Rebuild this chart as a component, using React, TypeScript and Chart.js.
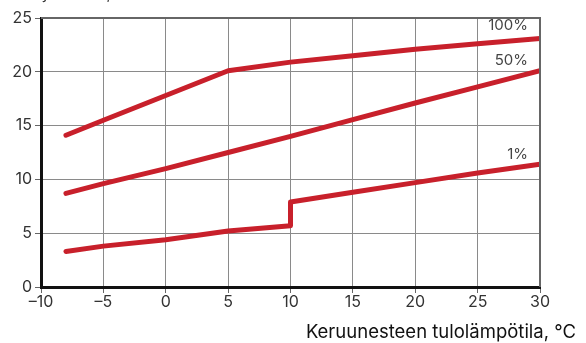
import React, { useEffect, useRef } from "react";
import { Chart, registerables } from "chart.js";

Chart.register(...registerables);

const xTicks = [-10, -5, 0, 5, 10, 15, 20, 25, 30];
const yTicks = [0, 5, 10, 15, 20, 25];

const x100 = [-8, -5, 0, 5, 10, 15, 20, 25, 30];
const y100 = [14.1, 15.5, 17.8, 20.1, 20.9, 21.5, 22.1, 22.6, 23.1];

const x50 = [-8, -5, 0, 5, 10, 15, 20, 25, 30];
const y50 = [8.7, 9.6, 11.0, 12.5, 14.0, 15.55, 17.1, 18.6, 20.1];

const x1 = [-8, -5, 0, 5, 10, 10, 15, 20, 25, 30];
const y1 = [3.3, 3.8, 4.4, 5.2, 5.7, 7.9, 8.8, 9.7, 10.6, 11.4];

const seriesLabels = ["100%", "50%", "1%"];
const xTitle = "Keruunesteen tulolämpötila, °C";
const yTitle = "Kylmäteho, kW";

const RED = "#c8202b";
const FONT = "Inter, 'Open Sans', sans-serif";

function pts(xs: number[], ys: number[]) {
  return xs.map((x, i) => ({ x, y: ys[i] }));
}

const fmt = (v: number) => (v < 0 ? "–" + Math.abs(v) : String(v));

export default function App() {
  const ref = useRef<HTMLCanvasElement | null>(null);
  useEffect(() => {
    if (!ref.current) return;
    const labelOffsets = [13, 10, 10];
    const decor = {
      id: "decor",
      afterDraw(chart: any) {
        const { ctx, chartArea, scales } = chart;
        ctx.save();
        // top & right border
        ctx.strokeStyle = "#666";
        ctx.lineWidth = 2;
        ctx.beginPath();
        ctx.moveTo(chartArea.left, chartArea.top);
        ctx.lineTo(chartArea.right, chartArea.top);
        ctx.lineTo(chartArea.right, chartArea.bottom);
        ctx.stroke();
        // series labels
        ctx.fillStyle = "#444";
        ctx.font = "15px " + FONT;
        ctx.textAlign = "right";
        ctx.textBaseline = "middle";
        chart.data.datasets.forEach((ds: any, i: number) => {
          const last = ds.data[ds.data.length - 1];
          const px = scales.x.getPixelForValue(last.x) - 12;
          const py = scales.y.getPixelForValue(last.y) - labelOffsets[i];
          ctx.fillText(seriesLabels[i], px, py);
        });
        // x title
        ctx.fillStyle = "#111";
        ctx.font = "18.5px " + FONT;
        ctx.textAlign = "right";
        ctx.textBaseline = "middle";
        ctx.fillText(xTitle, 576, 332);
        // clipped y title
        ctx.fillStyle = "#333";
        ctx.font = "15px " + FONT;
        ctx.textAlign = "left";
        ctx.textBaseline = "alphabetic";
        ctx.fillText(yTitle, 32, -1);
        ctx.restore();
      },
    };
    const chart = new Chart(ref.current, {
      type: "line",
      data: {
        datasets: [
          { data: pts(x100, y100) },
          { data: pts(x50, y50) },
          { data: pts(x1, y1) },
        ].map((d) => ({
          ...d,
          borderColor: RED,
          borderWidth: 5,
          borderCapStyle: "round" as const,
          borderJoinStyle: "round" as const,
          pointRadius: 0,
          tension: 0,
          fill: false,
        })),
      },
      options: {
        animation: false,
        responsive: false,
        layout: { padding: { top: 18, right: 46, left: 0, bottom: 0 } },
        plugins: { legend: { display: false }, tooltip: { enabled: false } },
        scales: {
          x: {
            type: "linear",
            min: -10,
            max: 30,
            afterFit: (s: any) => {
              s.height = 56;
            },
            afterBuildTicks: (s: any) => {
              s.ticks = xTicks.map((v) => ({ value: v }));
            },
            ticks: {
              callback: (v: any) => fmt(Number(v)),
              color: "#333",
              font: { family: FONT, size: 16 },
              padding: 0,
              maxRotation: 0,
            },
            grid: {
              color: "#8a8a8a",
              lineWidth: 1,
              tickLength: 6,
              tickColor: "#666",
            },
            border: { display: true, color: "#111", width: 3 },
          },
          y: {
            type: "linear",
            min: 0,
            max: 25,
            afterFit: (s: any) => {
              s.width = 41;
            },
            afterBuildTicks: (s: any) => {
              s.ticks = yTicks.map((v) => ({ value: v }));
            },
            ticks: {
              color: "#333",
              font: { family: FONT, size: 16 },
              padding: 3,
            },
            grid: {
              color: "#8a8a8a",
              lineWidth: 1,
              tickLength: 6,
              tickColor: "#666",
            },
            border: { display: true, color: "#111", width: 3 },
          },
        },
      },
      plugins: [decor],
    } as any);
    return () => chart.destroy();
  }, []);
  return (
    <div style={{ position: "fixed", left: 0, top: 0, width: 586, height: 343, background: "#fff" }}>
      <canvas ref={ref} width={586} height={343} style={{ width: 586, height: 343, display: "block" }} />
    </div>
  );
}
